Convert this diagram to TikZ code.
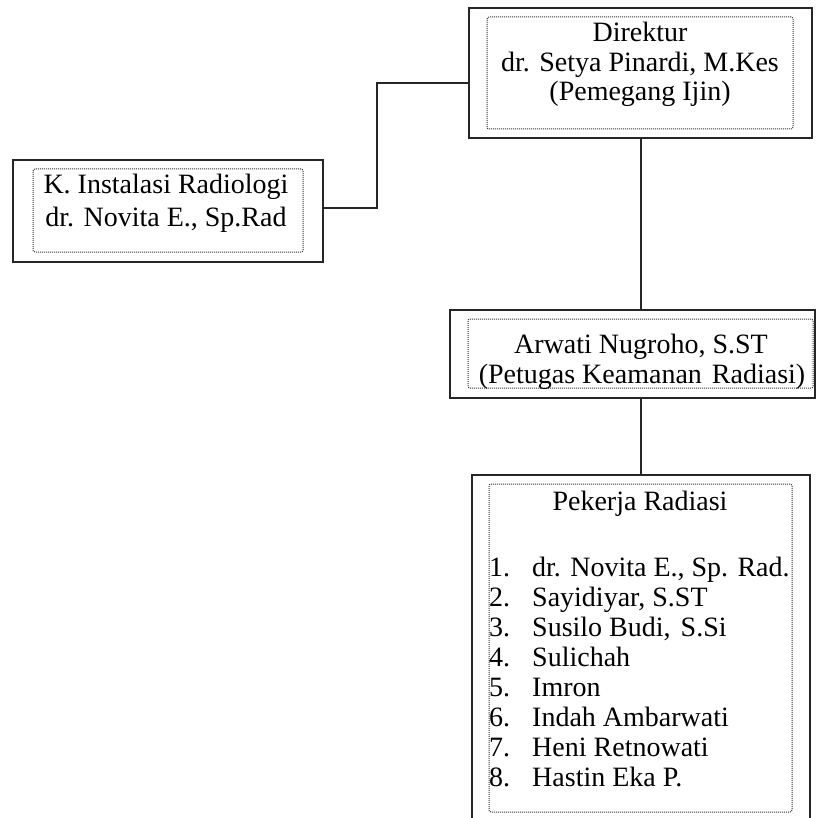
\documentclass[tikz,border=0pt]{standalone}
\usepackage{fontspec}
\setmainfont{Liberation Serif}
\begin{document}
\begin{tikzpicture}[x=1pt,y=-1pt,
  outer/.style={draw=black!85, line width=2pt, inner sep=0pt, fill=white},
  innerbox/.style={draw=black!80, line width=1pt, dash pattern=on 1pt off 1pt, rounded corners=2pt, inner sep=0pt},
  txt/.style={inner sep=0pt, anchor=base, font=\fontsize{28}{32}\selectfont},
  link/.style={draw=black!85, line width=2pt}]
\clip (0,0) rectangle (816,818);
\fill[white] (0,0) rectangle (816,818);
% boxes
\node[outer, minimum width=343pt, minimum height=130pt] (dir) at (640.5,73) {};
\node[innerbox, minimum width=306pt, minimum height=112pt] (diri) at (640,73) {};
\node[outer, minimum width=310pt, minimum height=102pt] (lb) at (168,211) {};
\node[innerbox, minimum width=270pt, minimum height=83pt] (lbi) at (168,210.5) {};
\node[outer, minimum width=365pt, minimum height=88pt] (arw) at (632.5,354) {};
\node[innerbox, minimum width=345pt, minimum height=69pt] (arwi) at (640.5,353.5) {};
\node[outer, minimum width=338pt, minimum height=355pt] (pek) at (641,652.5) {};
\node[innerbox, minimum width=303pt, minimum height=328pt] (peki) at (640.5,648) {};
% connectors
\coordinate (j1) at (377,208);
\coordinate (j2) at (377,83);
\draw[link] (dir.south) -- (dir.south |- arw.north);
\draw[link] (arw.south -| pek.north) -- (pek.north);
\draw[link] (lb.east |- j1) -- (j1) -- (j2) -- (dir.west |- j2);
% texts
\node[txt] (d1) at (640,42) {Direktur};
\node[txt] (d2) at (640,72) {dr. Setya Pinardi, M.Kes};
\node[txt] (d3) at (640,101) {(Pemegang Ijin)};
\node[txt] (l1) at (166,194) {K. Instalasi Radiologi};
\node[txt] (l2) at (166,226) {dr. Novita E., Sp.Rad};
\node[txt] (a1) at (641,353) {Arwati Nugroho, S.ST};
\node[txt] (a2) at (642,383) {(Petugas Keamanan\hspace{3pt} Radiasi)};
\node[txt] (p0) at (640,510) {Pekerja Radiasi};
\foreach \k/\name in {1/{dr. Novita E., Sp. Rad.},2/{Sayidiyar, S.ST},3/{Susilo Budi,\hspace{3pt} S.Si},4/{Sulichah},5/{Imron},6/{Indah Ambarwati},7/{Heni Retnowati},8/{Hastin Eka P.}}{
  \node[txt, anchor=base west] (n\k) at (489,{576+30*(\k-1)}) {\k.};
  \node[txt, anchor=base west] (i\k) at (532,{576+30*(\k-1)}) {\name};
}
\end{tikzpicture}
\end{document}
